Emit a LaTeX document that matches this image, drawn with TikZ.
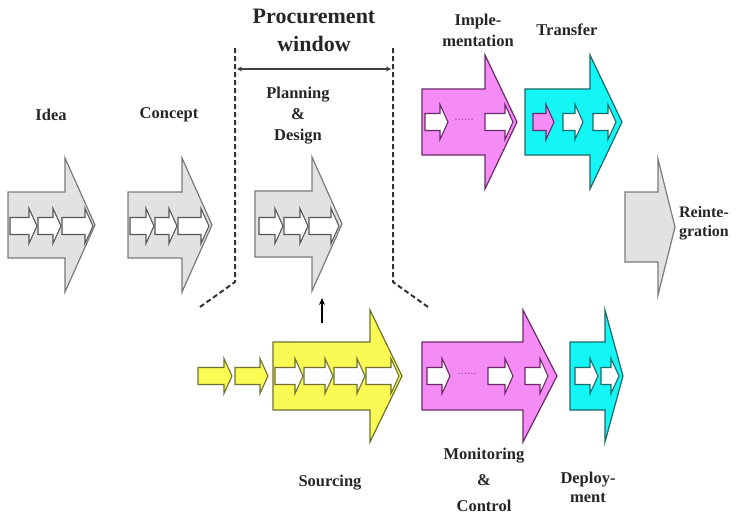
\documentclass[tikz,border=0pt]{standalone}
\usepackage{fontspec}
\setmainfont{Liberation Serif}
\usetikzlibrary{arrows.meta}
\definecolor{grayfill}{HTML}{E2E2E2}
\definecolor{grayline}{HTML}{7A7A7A}
\definecolor{pinkfill}{HTML}{F58CF5}
\definecolor{pinkline}{HTML}{6A2A6A}
\definecolor{cyanfill}{HTML}{14F5F5}
\definecolor{cyanline}{HTML}{1A6A6A}
\definecolor{yelfill}{HTML}{FAFA55}
\definecolor{yelline}{HTML}{707030}
\definecolor{dotcol}{HTML}{A050A0}
\newcommand{\bigshape}[7]{\draw[#1] (#2,{#5-#6}) -- (#3,{#5-#6}) -- (#3,{#5-#7}) -- (#4,#5) -- (#3,{#5+#7}) -- (#3,{#5+#6}) -- (#2,{#5+#6}) -- cycle;}
\newcommand{\smallshape}[4]{\draw[#1] (#2,{#4-8.5}) -- ({#3-8},{#4-8.5}) -- ({#3-8},{#4-17.5}) -- (#3,#4) -- ({#3-8},{#4+17.5}) -- ({#3-8},{#4+8.5}) -- (#2,{#4+8.5}) -- cycle;}
\tikzset{
  graybig/.style={fill=grayfill,draw=grayline,line width=1.2pt,line join=miter},
  pinkbig/.style={fill=pinkfill,draw=pinkline,line width=1.2pt},
  cyanbig/.style={fill=cyanfill,draw=cyanline,line width=1.2pt},
  yelbig/.style={fill=yelfill,draw=yelline,line width=1.2pt},
  graysmall/.style={fill=white,draw=black!65,line width=1.1pt},
  pinksmall/.style={fill=white,draw=pinkline,line width=1.1pt},
  pinksmallp/.style={fill=pinkfill,draw=pinkline,line width=1.1pt},
  cyansmall/.style={fill=white,draw=cyanline,line width=1.1pt},
  yelsmall/.style={fill=white,draw=yelline,line width=1.1pt},
  yelsmally/.style={fill=yelfill,draw=yelline,line width=1.1pt},
  lbl/.style={font=\fontsize{16.5}{20}\selectfont\bfseries,inner sep=0pt,align=center,text=black!85},
  dots/.style={font=\fontsize{13}{13}\selectfont,text=dotcol,inner sep=0pt},
  window/.style={dashed,dash pattern=on 5pt off 3pt,line width=2pt,draw=black!80},
}
\begin{document}
\begin{tikzpicture}[x=1pt,y=-1pt]
\useasboundingbox (0,0) rectangle (745,517);
% gray arrows
\bigshape{graybig}{8}{65}{95}{225}{33}{67}
\smallshape{graysmall}{10}{37}{226}
\smallshape{graysmall}{38}{61}{226}
\smallshape{graysmall}{62}{93}{226}
\bigshape{graybig}{128}{182}{212}{225}{33}{67}
\smallshape{graysmall}{130}{154}{226}
\smallshape{graysmall}{155}{177}{226}
\smallshape{graysmall}{178}{209}{226}
\bigshape{graybig}{255}{312}{342}{224}{33}{67}
\smallshape{graysmall}{259}{283}{226}
\smallshape{graysmall}{284}{308}{226}
\smallshape{graysmall}{309}{339}{226}
\bigshape{graybig}{625}{658}{675}{227}{35}{68}
% top pink / cyan
\bigshape{pinkbig}{422}{485}{517}{122}{33}{67}
\smallshape{pinksmall}{425}{448}{122}
\node[dots] (d1) at (464,120) {......};
\smallshape{pinksmall}{485}{513}{122}
\bigshape{cyanbig}{525}{590}{622}{122}{33}{67}
\smallshape{pinksmallp}{533}{554}{122}
\smallshape{cyansmall}{563}{583}{122}
\smallshape{cyansmall}{593}{616}{122}
% bottom yellow
\smallshape{yelsmally}{198}{232}{376}
\smallshape{yelsmally}{235}{268}{376}
\bigshape{yelbig}{273}{370}{402}{376}{34}{66}
\smallshape{yelsmall}{275}{303}{376}
\smallshape{yelsmall}{304}{333}{376}
\smallshape{yelsmall}{334}{365}{376}
\smallshape{yelsmall}{366}{399}{376}
% bottom pink / cyan
\bigshape{pinkbig}{422}{523}{557}{376}{34}{66}
\smallshape{pinksmall}{427}{450}{376}
\node[dots] (d2) at (467,374) {......};
\smallshape{pinksmall}{488}{513}{376}
\smallshape{pinksmall}{525}{548}{376}
\bigshape{cyanbig}{570}{605}{623}{376}{34}{66}
\smallshape{cyansmall}{575}{598}{376}
\smallshape{cyansmall}{601}{619}{376}
% procurement window
\coordinate (wl1) at (235,48);
\coordinate (wl2) at (235,282);
\coordinate (wl3) at (200,307);
\coordinate (wr1) at (393,48);
\coordinate (wr2) at (393,282);
\coordinate (wr3) at (428,307);
\draw[window] (wl1) -- (wl2) -- (wl3);
\draw[window] (wr1) -- (wr2) -- (wr3);
\coordinate (ha) at (237,69);
\coordinate (hb) at (391,69);
\draw[line width=1.4pt,draw=black!75,{Stealth[length=5pt,width=5pt]}-{Stealth[length=5pt,width=5pt]}] (ha) -- (hb);
\coordinate (ua) at (322,323);
\coordinate (ub) at (322,298);
\draw[line width=1.5pt,-{Stealth[length=7pt,width=6pt]}] (ua) -- (ub);
% labels
\node[lbl] (idea) at (51,115) {Idea};
\node[lbl] (concept) at (169,115) {Concept};
\node[lbl,font=\fontsize{22}{28}\selectfont\bfseries] (proc) at (314,30) {Procurement\\window};
\node[lbl,font=\fontsize{16.5}{21}\selectfont\bfseries] (plan) at (298,116) {Planning\\\&\\Design};
\node[lbl,font=\fontsize{16.5}{21}\selectfont\bfseries] (impl) at (478,30) {Imple-\\mentation};
\node[lbl] (transfer) at (567,30) {Transfer};
\node[lbl,font=\fontsize{16}{19.5}\selectfont\bfseries] (reint) at (704,223) {Reinte-\\gration};
\node[lbl] (sourcing) at (330,483) {Sourcing};
\node[lbl,font=\fontsize{16.5}{26}\selectfont\bfseries] (monitor) at (484,480) {Monitoring\\\&\\Control};
\node[lbl,font=\fontsize{16.5}{19}\selectfont\bfseries] (deploy) at (588,487) {Deploy-\\ment};
\end{tikzpicture}
\end{document}
